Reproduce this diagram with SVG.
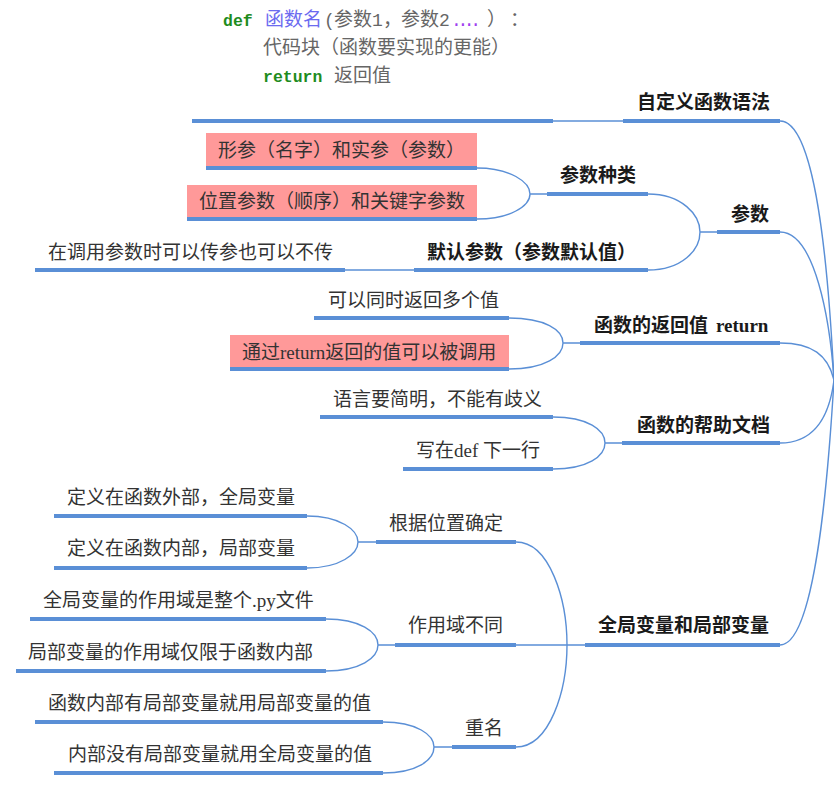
<svg xmlns="http://www.w3.org/2000/svg" width="834" height="786" viewBox="0 0 834 786">
<style>
.ul{stroke:#5a8fd6;stroke-width:4;fill:none}
.cn{stroke:#5a8fd6;stroke-width:1.4;fill:none}
.t{font-family:"Liberation Serif","Noto Sans CJK SC",sans-serif;font-size:19px;fill:#333}
.b{font-weight:bold;fill:#1a1a1a}
.pk{fill:#ff9999}
.code{font-family:"Noto Sans CJK SC",sans-serif;font-size:19px;fill:#666}
.kw{font-family:"Liberation Mono",monospace;font-weight:bold;font-size:16.5px;fill:#1e8c1e}
.mono{font-family:"Liberation Mono",monospace;font-size:18px;fill:#666}
</style>
<rect width="834" height="786" fill="#ffffff"/>
<g id="connectors">
<path class="cn" d="M780,121 C815,121 828,260 834,380"/>
<path class="cn" d="M780,232 C815,232 830,320 834,380"/>
<path class="cn" d="M780,343 C812,343 828,355 834,380"/>
<path class="cn" d="M780,443 C812,443 829,420 834,380"/>
<path class="cn" d="M780,645 C815,645 828,480 834,380"/>
<path class="cn" d="M553,121 H623"/>
<path class="cn" d="M648,194 C682,194 700,215 700,232 M648,270 C682,270 700,250 700,232 M700,232 H717"/>
<path class="cn" d="M477,168 C510,168 530,182 530,194 M477,219 C510,219 530,206 530,194 M530,194 H547"/>
<path class="cn" d="M345,270 H414"/>
<path class="cn" d="M509,318 C545,318 563,330 563,343 M509,369 C545,369 563,356 563,343 M563,343 H580"/>
<path class="cn" d="M553,417 C588,417 605,430 605,443 M553,469 C588,469 605,456 605,443 M605,443 H622"/>
<path class="cn" d="M516,542 C550,542 567,600 567,645 M516,747 C550,747 567,690 567,645 M516,645 H585"/>
<path class="cn" d="M307,516 C340,516 358,530 358,542 M307,568 C340,568 358,554 358,542 M358,542 H376"/>
<path class="cn" d="M326,619 C360,619 378,632 378,645 M326,671 C360,671 378,658 378,645 M378,645 H395"/>
<path class="cn" d="M383,722 C417,722 434,735 434,747 M383,773 C417,773 434,760 434,747 M434,747 H452"/>
</g>
<g id="n-code">
<text y="26"><tspan class="kw" x="223">def</tspan><tspan class="code" x="265" style="fill:#6b6bf0">函数名</tspan><tspan class="mono" x="324">(</tspan><tspan class="code" x="334">参数</tspan><tspan class="mono" x="372">1</tspan><tspan class="code" x="383">，</tspan><tspan class="code" x="401">参数</tspan><tspan class="mono" x="439">2</tspan><tspan class="mono" x="451" style="fill:#a040f0" textLength="30">....</tspan><tspan class="code" x="487">）</tspan><tspan class="code" x="510">：</tspan></text>
<text class="code" x="263" y="54">代码块（函数要实现的更能）</text>
<text y="82"><tspan class="kw" x="263">return</tspan><tspan class="code" x="334">返回值</tspan></text>
<line class="ul" x1="192" y1="121" x2="553" y2="121"/>
</g>
<g id="n-syntax">
<text class="t b" x="637" y="109">自定义函数语法</text>
<line class="ul" x1="623" y1="121" x2="780" y2="121"/>
</g>
<g id="n-param">
<text class="t b" x="731" y="221">参数</text>
<line class="ul" x1="717" y1="232" x2="780" y2="232"/>
</g>
<g id="n-kinds">
<text class="t b" x="560" y="182">参数种类</text>
<line class="ul" x1="547" y1="194" x2="648" y2="194"/>
</g>
<g id="n-formal">
<rect class="pk" x="206" y="133" width="271" height="35"/>
<text class="t" x="218" y="157">形参（名字）和实参（参数）</text>
<line class="ul" x1="206" y1="168" x2="477" y2="168"/>
</g>
<g id="n-position">
<rect class="pk" x="187" y="185" width="290" height="34"/>
<text class="t" x="199" y="208">位置参数（顺序）和关键字参数</text>
<line class="ul" x1="187" y1="219" x2="477" y2="219"/>
</g>
<g id="n-default">
<text class="t b" x="427" y="259">默认参数（参数默认值）</text>
<line class="ul" x1="414" y1="270" x2="648" y2="270"/>
</g>
<g id="n-optional">
<text class="t" x="48" y="259">在调用参数时可以传参也可以不传</text>
<line class="ul" x1="35" y1="270" x2="345" y2="270"/>
</g>
<g id="n-return">
<text class="t b" x="594" y="332">函数的返回值<tspan x="716">return</tspan></text>
<line class="ul" x1="580" y1="343" x2="780" y2="343"/>
</g>
<g id="n-multi">
<text class="t" x="328" y="307">可以同时返回多个值</text>
<line class="ul" x1="314" y1="318" x2="509" y2="318"/>
</g>
<g id="n-called">
<rect class="pk" x="230" y="335" width="279" height="34"/>
<text class="t" x="242" y="359">通过return返回的值可以被调用</text>
<line class="ul" x1="230" y1="369" x2="509" y2="369"/>
</g>
<g id="n-doc">
<text class="t b" x="637" y="432">函数的帮助文档</text>
<line class="ul" x1="622" y1="443" x2="780" y2="443"/>
</g>
<g id="n-concise">
<text class="t" x="333" y="406">语言要简明，不能有歧义</text>
<line class="ul" x1="320" y1="417" x2="553" y2="417"/>
</g>
<g id="n-defline">
<text class="t" x="416" y="457">写在def 下一行</text>
<line class="ul" x1="403" y1="469" x2="553" y2="469"/>
</g>
<g id="n-scope">
<text class="t b" x="598" y="632">全局变量和局部变量</text>
<line class="ul" x1="585" y1="645" x2="780" y2="645"/>
</g>
<g id="n-pos">
<text class="t" x="389" y="530">根据位置确定</text>
<line class="ul" x1="376" y1="542" x2="516" y2="542"/>
</g>
<g id="n-outside">
<text class="t" x="67" y="504">定义在函数外部，全局变量</text>
<line class="ul" x1="54" y1="516" x2="307" y2="516"/>
</g>
<g id="n-inside">
<text class="t" x="67" y="555">定义在函数内部，局部变量</text>
<line class="ul" x1="54" y1="568" x2="307" y2="568"/>
</g>
<g id="n-diff">
<text class="t" x="408" y="632">作用域不同</text>
<line class="ul" x1="395" y1="645" x2="516" y2="645"/>
</g>
<g id="n-gscope">
<text class="t" x="43" y="607">全局变量的作用域是整个.py文件</text>
<line class="ul" x1="30" y1="619" x2="326" y2="619"/>
</g>
<g id="n-lscope">
<text class="t" x="28" y="659">局部变量的作用域仅限于函数内部</text>
<line class="ul" x1="16" y1="671" x2="326" y2="671"/>
</g>
<g id="n-rename">
<text class="t" x="465" y="735">重名</text>
<line class="ul" x1="452" y1="747" x2="516" y2="747"/>
</g>
<g id="n-in1">
<text class="t" x="48" y="710">函数内部有局部变量就用局部变量的值</text>
<line class="ul" x1="35" y1="722" x2="383" y2="722"/>
</g>
<g id="n-in2">
<text class="t" x="68" y="761">内部没有局部变量就用全局变量的值</text>
<line class="ul" x1="54" y1="773" x2="383" y2="773"/>
</g>
</svg>
